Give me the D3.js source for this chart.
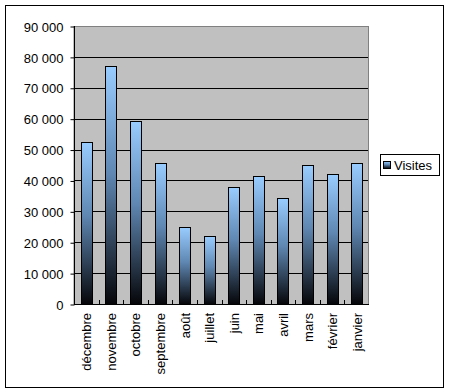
<!DOCTYPE html>
<html>
<head>
<meta charset="utf-8">
<script src="https://cdn.jsdelivr.net/npm/d3@7"></script>
<style>
  body { margin: 0; background: #fff; }
  text { font-family: "Liberation Sans", Arial, sans-serif; font-size: 13px; fill: #000; }
</style>
</head>
<body>
<div class="chart"></div>
<script>
var months = ["décembre", "novembre", "octobre", "septembre", "août", "juillet", "juin", "mai", "avril", "mars", "février", "janvier"];
var visites = [52400, 77000, 59100, 45500, 24800, 21900, 37800, 41600, 34200, 44900, 42000, 45500];
var yTicks = [0, 10000, 20000, 30000, 40000, 50000, 60000, 70000, 80000, 90000];
var seriesName = "Visites";

var width = 449;
var height = 392;
var plot = { left: 74, top: 26, right: 369, bottom: 304 };

var svg = d3.select(".chart")
  .append("svg")
  .attr("width", width)
  .attr("height", height);

// outer frame
svg.append("rect")
  .attr("x", 5.5).attr("y", 5.5)
  .attr("width", 438).attr("height", 382)
  .style("fill", "#fff").style("stroke", "#000");

// gradient light blue -> near black, per bar
var grad = svg.append("defs").append("linearGradient")
  .attr("id", "barGrad")
  .attr("x1", 0).attr("y1", 0).attr("x2", 0).attr("y2", 1);
grad.append("stop").attr("offset", "0%").attr("stop-color", "#99ccff");
grad.append("stop").attr("offset", "45%").attr("stop-color", "#5f87b2");
grad.append("stop").attr("offset", "100%").attr("stop-color", "#050508");

var xScale = d3.scaleBand()
  .domain(months)
  .range([plot.left, plot.right]);

var yScale = d3.scaleLinear()
  .domain([0, 90000])
  .range([plot.bottom, plot.top]);

// plot background
svg.append("rect")
  .attr("x", plot.left).attr("y", plot.top + 0.5)
  .attr("width", plot.right - plot.left - 0.5)
  .attr("height", plot.bottom - plot.top)
  .style("fill", "#c0c0c0")
  .style("stroke", "#808080");

// gridlines
svg.selectAll(".grid")
  .data(yTicks.slice(1, -1)).enter()
  .append("line")
  .attr("x1", plot.left).attr("x2", plot.right - 1)
  .attr("y1", function (d) { return Math.round(yScale(d)) + 0.5; })
  .attr("y2", function (d) { return Math.round(yScale(d)) + 0.5; })
  .style("stroke", "#000");

// bars
var bw = 11;
svg.selectAll(".bar")
  .data(visites).enter()
  .append("rect")
  .attr("x", function (d, i) { return Math.round(xScale(months[i]) + xScale.bandwidth() / 2 - bw / 2) + 0.5; })
  .attr("y", function (d) { return Math.round(yScale(d)) + 0.5; })
  .attr("width", bw)
  .attr("height", function (d) { return plot.bottom - Math.round(yScale(d)); })
  .style("fill", "url(#barGrad)")
  .style("stroke", "#000");

// y axis
var yAxis = d3.axisLeft(yScale)
  .tickValues(yTicks)
  .tickSize(4)
  .tickPadding(7)
  .tickFormat(function (d) { return d3.format(",")(d).replace(/,/g, " "); });
var gy = svg.append("g")
  .attr("transform", "translate(" + (plot.left + 0.5) + ",0.5)")
  .call(yAxis);
gy.select(".domain").remove();
gy.selectAll("line").style("stroke", "#000");
gy.selectAll("text").style("font-size", "13px").style("font-family", "Liberation Sans, Arial, sans-serif").attr("dy", "0.36em");
svg.append("line")
  .attr("x1", plot.left + 0.5).attr("x2", plot.left + 0.5)
  .attr("y1", plot.top).attr("y2", plot.bottom)
  .style("stroke", "#000");

// x axis line and inner ticks
svg.append("line")
  .attr("x1", plot.left).attr("x2", plot.right)
  .attr("y1", plot.bottom + 0.5).attr("y2", plot.bottom + 0.5)
  .style("stroke", "#000");
svg.selectAll(".xtick")
  .data(months.slice(1)).enter()
  .append("line")
  .attr("x1", function (d) { return Math.round(xScale(d)) + 0.5; })
  .attr("x2", function (d) { return Math.round(xScale(d)) + 0.5; })
  .attr("y1", plot.bottom - 4).attr("y2", plot.bottom)
  .style("stroke", "#000");

// x labels, rotated
svg.selectAll(".xlabel")
  .data(months).enter()
  .append("text")
  .attr("transform", function (d) {
    return "translate(" + (xScale(d) + xScale.bandwidth() / 2 + 5) + "," + (plot.bottom + 9) + ") rotate(-90)";
  })
  .attr("text-anchor", "end")
  .text(function (d) { return d; });

// legend
var lg = svg.append("g").attr("transform", "translate(380,154)");
lg.append("rect")
  .attr("x", 0.5).attr("y", 0.5)
  .attr("width", 59).attr("height", 21)
  .style("fill", "#fff").style("stroke", "#000");
lg.append("rect")
  .attr("x", 3.5).attr("y", 7.5)
  .attr("width", 7).attr("height", 7)
  .style("fill", "url(#barGrad)").style("stroke", "#000");
lg.append("text")
  .attr("x", 14).attr("y", 16)
  .text(seriesName);
</script>
</body>
</html>
